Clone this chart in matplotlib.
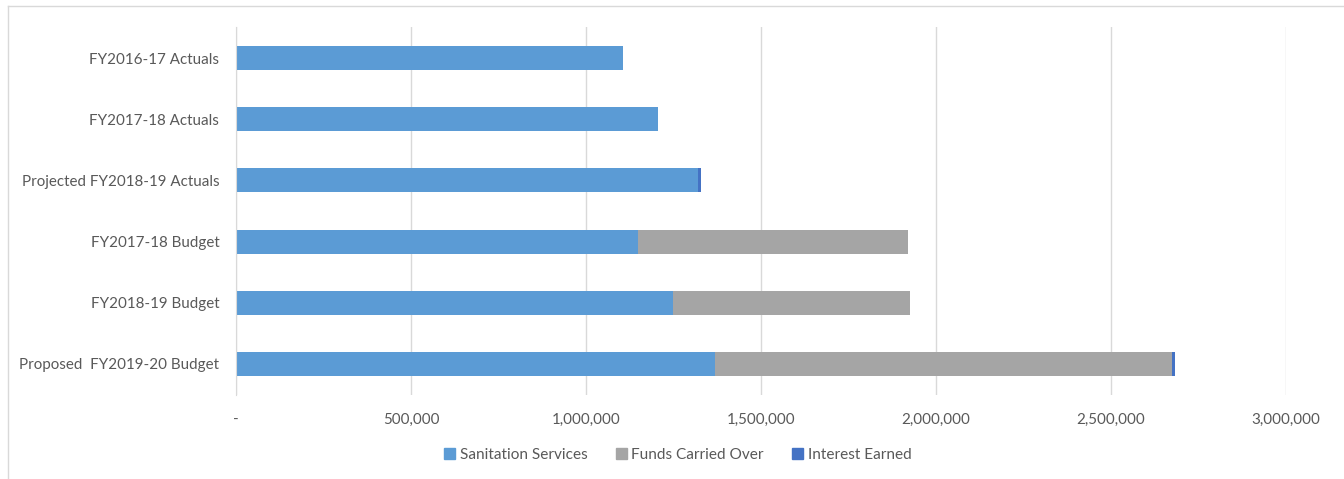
import matplotlib
matplotlib.use("Agg")
import matplotlib.pyplot as plt
from matplotlib.lines import Line2D
from matplotlib.ticker import FuncFormatter

categories = ["FY2016-17 Actuals", "FY2017-18 Actuals", "Projected FY2018-19 Actuals",
              "FY2017-18 Budget", "FY2018-19 Budget", "Proposed  FY2019-20 Budget"]
sanitation = [1106000, 1206000, 1319000, 1149000, 1249000, 1368000]
funds_carried = [0, 0, 0, 771000, 677000, 1306000]
interest = [0, 0, 8600, 0, 0, 8600]
series_names = ["Sanitation Services", "Funds Carried Over", "Interest Earned"]
colors = ["#5B9BD5", "#A5A5A5", "#4472C4"]
xticks = [0, 500000, 1000000, 1500000, 2000000, 2500000, 3000000]

W, H = 1344, 479
fig = plt.figure(figsize=(W / 100, H / 100), dpi=100)
plt.rcParams['font.family'] = ['Lato', 'DejaVu Sans']

left, right, top, bottom = 236, 1285.7, 27.4, 394.6
ax = fig.add_axes([left / W, 1 - bottom / H, (right - left) / W, (bottom - top) / H])

y = list(range(len(categories)))
bh = 0.39
left2 = [a for a in sanitation]
left3 = [a + b for a, b in zip(sanitation, funds_carried)]
ax.barh(y, sanitation, height=bh, color=colors[0], label=series_names[0], zorder=3)
ax.barh(y, funds_carried, left=left2, height=bh, color=colors[1], label=series_names[1], zorder=3)
ax.barh(y, interest, left=left3, height=bh, color=colors[2], label=series_names[2], zorder=3)

ax.set_ylim(len(categories) - 0.5, -0.5)
ax.set_xlim(0, 3000000)
ax.set_yticks(y)
ax.set_yticklabels(categories)
ax.set_xticks(xticks)
ax.xaxis.set_major_formatter(FuncFormatter(lambda v, p: "-" if v == 0 else f"{int(v):,}"))
ax.tick_params(axis='both', length=0, labelsize=10.9, labelcolor="#595959")
ax.tick_params(axis='x', pad=13.5)
ax.tick_params(axis='y', pad=12)
ax.grid(axis='x', color="#D9D9D9", linewidth=1, zorder=0)
for s in ["top", "right", "bottom"]:
    ax.spines[s].set_visible(False)
ax.spines["left"].set_color("#D9D9D9")
ax.spines["left"].set_zorder(4)

handles = [plt.Rectangle((0, 0), 1, 1, color=c) for c in colors]
fig.legend(handles, series_names, loc="center", bbox_to_anchor=(678 / W, 1 - 455 / H),
           ncol=3, frameon=False, fontsize=11.1, labelcolor="#595959",
           handlelength=0.7, handleheight=0.7, handletextpad=0.3, columnspacing=1.85)

# outer border (top and left visible)
fig.add_artist(Line2D([7.5 / W, 1], [1 - 6 / H, 1 - 6 / H], color="#D9D9D9", lw=1, transform=fig.transFigure))
fig.add_artist(Line2D([7.5 / W, 7.5 / W], [0, 1 - 6 / H], color="#D9D9D9", lw=1, transform=fig.transFigure))

fig.savefig("out.png", dpi=100)
